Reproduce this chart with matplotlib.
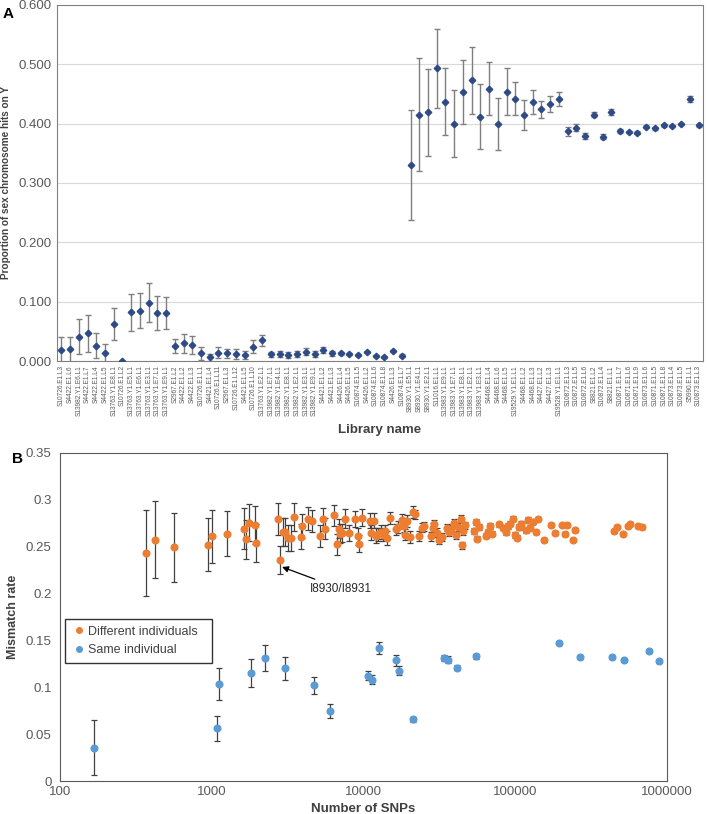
import matplotlib.pyplot as plt
from matplotlib.lines import Line2D
from matplotlib.ticker import FuncFormatter

plt.rcParams['font.family'] = ['Liberation Sans', 'DejaVu Sans']

# panel A
libraries = [
    'S10726.E1.L3', 'S4422.E1.L6', 'S13982.Y1.E6.L1', 'S4422.E1.L7', 'S4422.E1.L4',
    'S4422.E1.L5', 'S13763.Y1.E8.L1', 'S10726.E1.L2', 'S13763.Y1.E5.L1', 'S13763.Y1.E6.L1',
    'S13763.Y1.E3.L1', 'S13763.Y1.E7.L1', 'S13763.Y1.E9.L1', 'S2967.E1.L2', 'S4422.E1.L2',
    'S4422.E1.L3', 'S10726.E1.L1', 'S4421.E1.L4', 'S10726.E1.L11', 'S2967.E1.L3',
    'S10726.E1.L12', 'S4421.E1.L5', 'S10726.E1.L10', 'S13763.Y1.E2.L1', 'S13982.Y1.E7.L1',
    'S13982.Y1.E4.L1', 'S13982.Y1.E8.L1', 'S13982.Y1.E2.L1', 'S13982.Y1.E3.L1', 'S13982.Y1.E9.L1',
    'S4421.E1.L2', 'S4421.E1.L3', 'S4426.E1.L4', 'S4426.E1.L5', 'S10874.E1.L5',
    'S4426.E1.L2', 'S10874.E1.L6', 'S10874.E1.L8', 'S4426.E1.L3', 'S10874.E1.L7',
    'S8930.Y1.E5.L1', 'S8930.Y1.E4.L1', 'S8930.Y1.E2.L1', 'S11016.E1.L1', 'S13983.Y1.E9.L1',
    'S13983.Y1.E7.L1', 'S13983.Y1.E8.L1', 'S13983.Y1.E2.L1', 'S13983.Y1.E3.L1', 'S4468.E1.L4',
    'S4468.E1.L6', 'S4468.E1.L5', 'S19529.Y1.E1.L1', 'S4468.E1.L2', 'S4468.E1.L3',
    'S4427.E1.L2', 'S4427.E1.L3', 'S19528.Y1.E1.L1', 'S10872.E1.L3', 'S10872.E1.L5',
    'S10872.E1.L6', 'S8821.E1.L2', 'S10872.E1.L4', 'S8821.E1.L1', 'S10871.E1.L7',
    'S10871.E1.L6', 'S10871.E1.L9', 'S10873.E1.L6', 'S10871.E1.L5', 'S10871.E1.L8',
    'S10873.E1.L4', 'S10873.E1.L5', 'S5990.E1.L1', 'S10873.E1.L3',
]
prop_y = [
    0.019, 0.020, 0.041, 0.047, 0.026, 0.013, 0.062, 0.000, 0.082, 0.085,
    0.098, 0.081, 0.081, 0.025, 0.030, 0.027, 0.013, 0.006, 0.014, 0.013,
    0.012, 0.010, 0.024, 0.035, 0.011, 0.012, 0.010, 0.012, 0.016, 0.012,
    0.018, 0.013, 0.013, 0.012, 0.010, 0.015, 0.008, 0.007, 0.017, 0.009,
    0.330, 0.415, 0.419, 0.493, 0.437, 0.400, 0.454, 0.473, 0.412, 0.459,
    0.399, 0.454, 0.442, 0.415, 0.437, 0.424, 0.433, 0.442, 0.387, 0.393,
    0.379, 0.415, 0.378, 0.420, 0.388, 0.386, 0.385, 0.395, 0.392, 0.397,
    0.396, 0.399, 0.442, 0.397,
]
prop_err = [
    0.022, 0.021, 0.029, 0.031, 0.021, 0.016, 0.027, 0.000, 0.031, 0.030,
    0.033, 0.029, 0.027, 0.012, 0.016, 0.015, 0.011, 0.006, 0.009, 0.008,
    0.009, 0.007, 0.011, 0.009, 0.005, 0.005, 0.005, 0.005, 0.006, 0.005,
    0.005, 0.004, 0.003, 0.002, 0.002, 0.002, 0.002, 0.002, 0.002, 0.002,
    0.093, 0.095, 0.073, 0.066, 0.056, 0.056, 0.054, 0.057, 0.055, 0.045,
    0.044, 0.040, 0.028, 0.025, 0.020, 0.015, 0.014, 0.012, 0.007, 0.006,
    0.005, 0.004, 0.004, 0.005, 0.003, 0.002, 0.002, 0.002, 0.002, 0.002,
    0.002, 0.002, 0.005, 0.002,
]

# panel B - different individuals
diff_snps = [
    367, 425, 560, 938, 1005, 1253, 1629, 1685, 1771, 1921, 1960, 2748, 2824, 2967, 3060,
    3175, 3327, 3475, 3855, 3960, 4275, 4605, 5175, 5395, 5540, 6370, 6680, 6860, 7010, 7210,
    7570, 8070, 8760, 9200, 9330, 9840, 11080, 11250, 11800, 12150, 12530, 12980, 13430, 13860, 14330,
    15000, 16360, 16910, 17830, 18470, 18840, 19330, 20400, 21120, 21860, 23380, 24200, 25000, 27700, 28700,
    29300, 30400, 31400, 33000, 35400, 36600, 37900, 39200, 40700, 42100, 43700, 44600, 45200, 46800, 53700,
    54900, 55700, 57700, 63800, 66100, 68300, 70700, 78300, 82700, 86700, 89800, 92900, 96100, 99300, 102700,
    106000, 109700, 117000, 121000, 125000, 130000, 137000, 141000, 155000, 172000, 184000, 204000, 212000, 220000, 241000,
    248000, 446000, 465000, 511000, 550000, 567000, 645000, 689000,
]
diff_rate = [
    0.2437, 0.2576, 0.2494, 0.2522, 0.2611, 0.2636, 0.2693, 0.2579, 0.2757, 0.2732, 0.2540, 0.2796, 0.2359, 0.2657, 0.2657,
    0.2597, 0.2593, 0.2818, 0.2608, 0.2718, 0.2800, 0.2775, 0.2615, 0.2793, 0.2693, 0.2835, 0.2526, 0.2693, 0.2640, 0.2647,
    0.2800, 0.2647, 0.2796, 0.2611, 0.2533, 0.2810, 0.2775, 0.2647, 0.2775, 0.2618, 0.2633, 0.2657, 0.2629, 0.2664, 0.2593,
    0.2807, 0.2686, 0.2711, 0.2789, 0.2721, 0.2629, 0.2775, 0.2604, 0.2871, 0.2846, 0.2615, 0.2704, 0.2718, 0.2611, 0.2704,
    0.2739, 0.2650, 0.2568, 0.2604, 0.2704, 0.2654, 0.2693, 0.2757, 0.2622, 0.2711, 0.2800, 0.2515, 0.2664, 0.2729, 0.2668,
    0.2761, 0.2586, 0.2711, 0.2618, 0.2657, 0.2721, 0.2640, 0.2739, 0.2704, 0.2657, 0.2718, 0.2746, 0.2800, 0.2622, 0.2597,
    0.2711, 0.2746, 0.2675, 0.2782, 0.2704, 0.2764, 0.2657, 0.2796, 0.2568, 0.2729, 0.2650, 0.2736, 0.2633, 0.2729, 0.2576,
    0.2675, 0.2664, 0.2711, 0.2640, 0.2721, 0.2739, 0.2718, 0.2711,
]
diff_err = [
    0.046, 0.041, 0.037, 0.028, 0.028, 0.024, 0.022, 0.021, 0.020, 0.020, 0.020, 0.017, 0.015, 0.015, 0.015,
    0.014, 0.014, 0.015, 0.013, 0.013, 0.012, 0.012, 0.012, 0.012, 0.011, 0.011, 0.011, 0.010, 0.010, 0.010,
    0.010, 0.009, 0.009, 0.009, 0.009, 0.009, 0.008, 0.008, 0.008, 0.008, 0.007, 0.007, 0.007, 0.007, 0.007,
    0.006, 0.006, 0.006, 0.006, 0.006, 0.006, 0.006, 0.006, 0.006, 0.005, 0.005, 0.005, 0.005, 0.005, 0.005,
    0.005, 0.005, 0.004, 0.004, 0.004, 0.004, 0.004, 0.004, 0.004, 0.004, 0.004, 0.004, 0.004, 0.004, 0.003,
    0.003, 0.003, 0.003, 0.003, 0.003, 0.003, 0.003, 0.003, 0.003, 0.003, 0.003, 0.003, 0.003, 0.003, 0.003,
    0.003, 0.003, 0.003, 0.003, 0.003, 0.002, 0.002, 0.002, 0.002, 0.002, 0.002, 0.002, 0.002, 0.002, 0.002,
    0.002, 0.002, 0.002, 0.002, 0.002, 0.002, 0.002, 0.002,
]

# panel B - same individual
same_snps = [168, 1077, 1114, 1805, 2232, 3025, 4700, 6030, 10740, 11350, 12600, 16450,
             17240, 21280, 33700, 35900, 41500, 55500, 193000, 269000, 437000, 519000, 759000, 881000]
same_rate = [0.0356, 0.0562, 0.1032, 0.1153, 0.1316, 0.1202, 0.1021, 0.0747, 0.1124, 0.1081, 0.1419, 0.1288,
             0.1178, 0.0658, 0.1316, 0.1295, 0.1210, 0.1330, 0.1473, 0.1320, 0.1327, 0.1288, 0.1387, 0.1281]
same_err = [0.029, 0.013, 0.017, 0.015, 0.014, 0.012, 0.009, 0.007, 0.005, 0.005, 0.006, 0.006,
            0.005, 0.003, 0.003, 0.004, 0.003, 0.003, 0.002, 0.002, 0.002, 0.002, 0.002, 0.002]

orange = '#ED7D31'
blue = '#5B9BD5'
tick_col = '#595959'
lab_col = '#404040'

fig = plt.figure(figsize=(7.07, 8.14), dpi=100)

# ---- A ----
ax1 = fig.add_axes([0.0806, 0.5565, 0.9137, 0.4374])
xs = list(range(len(libraries)))
ax1.errorbar(xs, prop_y, yerr=prop_err, fmt='D', color='#2F4B87', markersize=3.3,
             ecolor='#7f7f7f', elinewidth=1, capsize=2.5, capthick=1, zorder=3)
ax1.set_xlim(-0.5, len(libraries) - 0.5)
ax1.set_ylim(0, 0.6)
ax1.set_yticks([0, 0.1, 0.2, 0.3, 0.4, 0.5, 0.6])
ax1.yaxis.set_major_formatter(FuncFormatter(lambda v, p: '%.3f' % v))
ax1.set_xticks(xs)
ax1.set_xticklabels(libraries, rotation=90, fontsize=4.7, color=tick_col)
ax1.tick_params(axis='x', length=0, pad=3)
ax1.tick_params(axis='y', length=0, labelsize=9.5, labelcolor=tick_col, pad=4)
ax1.grid(axis='y', color='#d9d9d9', linewidth=0.8)
ax1.set_axisbelow(True)
for s in ax1.spines.values():
    s.set_color('#808080')
ax1.set_ylabel('Proportion of sex chromosome hits on Y', fontsize=7.2, fontweight='bold',
               color=lab_col, labelpad=5)
ax1.set_xlabel('Library name', fontsize=9.5, fontweight='bold', color=lab_col, labelpad=6)
fig.text(0.004, 0.992, 'A', fontsize=11, fontweight='bold', va='top')

# ---- B ----
ax2 = fig.add_axes([0.0849, 0.0405, 0.8585, 0.403])
ax2.errorbar(diff_snps, diff_rate, yerr=diff_err, fmt='o', color=orange, markersize=4.8,
             ecolor='#404040', elinewidth=0.9, capsize=2, capthick=0.9, zorder=3)
ax2.errorbar(same_snps, same_rate, yerr=same_err, fmt='o', color=blue, markersize=4.8,
             ecolor='#404040', elinewidth=0.9, capsize=2, capthick=0.9, zorder=3)
ax2.set_xscale('log')
ax2.set_xlim(100, 1000000)
ax2.set_ylim(0, 0.35)
ax2.set_xticks([100, 1000, 10000, 100000, 1000000])
ax2.xaxis.set_major_formatter(FuncFormatter(lambda v, p: '%d' % v))
ax2.minorticks_off()
ax2.set_yticks([0, 0.05, 0.1, 0.15, 0.2, 0.25, 0.3, 0.35])
ax2.yaxis.set_major_formatter(FuncFormatter(lambda v, p: ('%.2f' % v).rstrip('0').rstrip('.')))
ax2.tick_params(length=0, labelsize=9.5, labelcolor=tick_col)
ax2.tick_params(axis='y', pad=6)
for s in ax2.spines.values():
    s.set_color('#595959')
ax2.set_ylabel('Mismatch rate', fontsize=9, fontweight='bold', color=lab_col, labelpad=5)
ax2.set_xlabel('Number of SNPs', fontsize=9.5, fontweight='bold', color=lab_col, labelpad=4)
ax2.annotate('I8930/I8931', xy=(2905, 0.2284), xytext=(4437, 0.205), fontsize=8.5,
             color='#262626', va='center', ha='left',
             arrowprops=dict(arrowstyle='-|>', color='black', lw=0.9, shrinkA=2, shrinkB=0,
                             mutation_scale=9))
handles = [Line2D([], [], ls='none', marker='o', color=orange, markersize=4),
           Line2D([], [], ls='none', marker='o', color=blue, markersize=4)]
leg = ax2.legend(handles, ['Different individuals', 'Same individual'], loc='upper left',
                 bbox_to_anchor=(0.0075, 0.495, 0.2425, 0.0), mode='expand', borderaxespad=0,
                 fontsize=9, frameon=True, fancybox=False, edgecolor='black',
                 handletextpad=0.1, handlelength=1.2, borderpad=0.55, labelspacing=0.55)
leg.get_frame().set_linewidth(1)
for t in leg.get_texts():
    t.set_color('#404040')
fig.text(0.017, 0.436, 'B', fontsize=11, fontweight='bold', va='center')

fig.savefig('out.png', dpi=100)
